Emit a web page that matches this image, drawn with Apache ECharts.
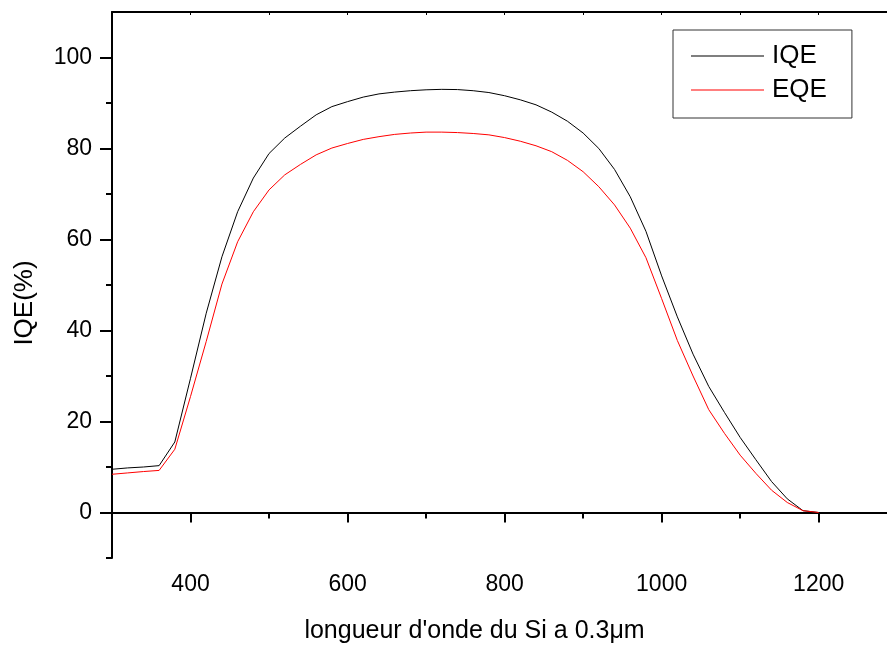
<!DOCTYPE html>
<html>
<head>
<meta charset="utf-8">
<script src="https://cdn.jsdelivr.net/npm/echarts@6/dist/echarts.min.js"></script>
<style>html,body{margin:0;padding:0;background:#fff}#c{width:887px;height:646px}</style>
</head>
<body>
<div id="c"></div>
<script>
const wavelengths = [300,320,340,360,380,400,420,440,460,480,500,520,540,560,580,600,620,640,660,680,700,720,740,760,780,800,820,840,860,880,900,920,940,960,980,1000,1020,1040,1060,1080,1100,1120,1140,1160,1180,1200];
const iqe = [9.5,9.8,10.0,10.3,15.5,29.5,43.8,56.2,66.1,73.5,78.9,82.3,84.9,87.4,89.2,90.3,91.3,92.0,92.4,92.7,92.9,93.0,92.95,92.7,92.3,91.6,90.7,89.6,88.0,86.0,83.4,80.0,75.4,69.4,61.8,52.0,43.0,34.8,27.7,22.0,16.5,11.6,6.8,3.0,0.4,0.0];
const eqe = [8.4,8.7,9.0,9.25,13.9,25.5,37.6,50.2,59.5,66.1,70.9,74.2,76.5,78.6,80.1,81.1,82.0,82.6,83.1,83.4,83.6,83.6,83.5,83.3,83.0,82.4,81.6,80.6,79.3,77.4,74.9,71.6,67.6,62.5,56.0,47.0,37.8,30.0,22.6,17.4,12.6,8.6,4.9,2.2,0.4,0.0];
const xMajorTicks = [400,600,800,1000,1200];
const xMinorTicks = [300,500,700,900,1100];
const xTopTicks = [300,400,500,600,700,800,900,1000,1100,1200];
const yMajorTicks = [0,20,40,60,80,100];
const yMinorTicks = [-10,10,30,50,70,90];
const seriesNames = ['IQE','EQE'];

const FONT = '"Liberation Sans", Arial, sans-serif';
const chart = echarts.init(document.getElementById('c'), null, {renderer:'canvas'});
const pair = (xs, ys) => xs.map((x,i)=>[x, ys[i]]);
const axisLineStyle = {color:'#000', width:2};
const plain = v => String(v);

chart.setOption({
  animation:false,
  backgroundColor:'#fff',
  grid:{left:112, top:12, bottom:88, right:0, containLabel:false, outerBoundsMode:'none'},
  legend:{
    left:673, top:30, orient:'vertical',
    padding:[13,25,15,18],
    borderColor:'#333', borderWidth:1, backgroundColor:'#fff',
    icon:'rect', itemWidth:73, itemHeight:1, itemGap:8,
    textStyle:{fontFamily:FONT, fontSize:26, color:'#000', lineHeight:26, padding:[0,0,0,3]},
    data:seriesNames
  },
  xAxis:[
    {type:'value', min:300, max:1287, position:'bottom',
     name:'longueur d\'onde du Si a 0.3μm', nameLocation:'middle', nameGap:61,
     nameTextStyle:{fontFamily:FONT, fontSize:25, color:'#000', padding:[0,50,0,0]},
     axisLine:{show:true, lineStyle:axisLineStyle},
     axisTick:{show:true, inside:false, length:10, customValues:xMajorTicks, lineStyle:{color:'#000', width:2}},
     axisLabel:{show:true, customValues:xMajorTicks, formatter:plain, fontFamily:FONT, fontSize:23, color:'#000', margin:15},
     splitLine:{show:false}},
    {type:'value', min:300, max:1287, position:'bottom',
     axisLine:{show:false},
     axisTick:{show:true, length:6, customValues:xMinorTicks, lineStyle:{color:'#000', width:2}},
     axisLabel:{show:false}, splitLine:{show:false}},
    {type:'value', min:300, max:1287, position:'top',
     axisLine:{show:true, lineStyle:axisLineStyle},
     axisTick:{show:true, inside:true, length:3, customValues:xTopTicks, lineStyle:{color:'#000', width:1}},
     axisLabel:{show:false}, splitLine:{show:false}}
  ],
  yAxis:[
    {type:'value', min:-10, max:110, position:'left',
     name:'IQE(%)', nameLocation:'middle', nameGap:74, nameRotate:90,
     nameTextStyle:{fontFamily:FONT, fontSize:26, color:'#000', padding:[0,36,0,0]},
     axisLine:{show:true, lineStyle:axisLineStyle},
     axisTick:{show:true, length:12, customValues:yMajorTicks, lineStyle:{color:'#000', width:2}},
     axisLabel:{show:true, customValues:yMajorTicks, formatter:plain, fontFamily:FONT, fontSize:23, color:'#000', margin:20},
     splitLine:{show:false}},
    {type:'value', min:-10, max:110, position:'left',
     axisLine:{show:false},
     axisTick:{show:true, length:6, customValues:yMinorTicks, lineStyle:{color:'#000', width:2}},
     axisLabel:{show:false}, splitLine:{show:false}}
  ],
  series:[
    {name:seriesNames[0], type:'line', xAxisIndex:0, yAxisIndex:0, data:pair(wavelengths, iqe),
     symbol:'none', lineStyle:{color:'#000', width:1}, itemStyle:{color:'#000'}},
    {name:seriesNames[1], type:'line', xAxisIndex:0, yAxisIndex:0, data:pair(wavelengths, eqe),
     symbol:'none', lineStyle:{color:'#ff0000', width:1}, itemStyle:{color:'#ff0000'}}
  ]
});
</script>
</body>
</html>
